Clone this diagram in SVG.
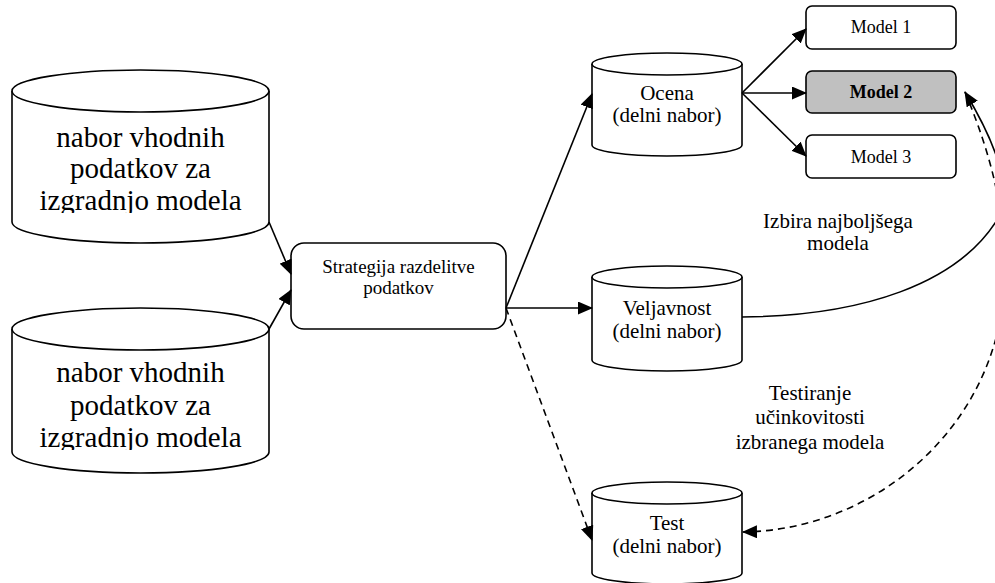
<svg xmlns="http://www.w3.org/2000/svg" width="995" height="583" viewBox="0 0 995 583">
<defs>
<marker id="ah" markerWidth="15" markerHeight="13" refX="14" refY="6.5" orient="auto" markerUnits="userSpaceOnUse">
<path d="M0,0 L15,6.5 L0,13 Z" fill="#000"/>
</marker>
<clipPath id="c1"><rect x="0" y="0" width="300" height="213"/></clipPath>
<clipPath id="c2"><rect x="0" y="300" width="300" height="150"/></clipPath>
</defs>
<rect width="995" height="583" fill="#fff"/>

<g fill="#fff" stroke="#000" stroke-width="1.6">
<g id="dataset1">
<path d="M12,91 L12,222 A128.5,21 0 0 0 269,222 L269,91"/>
<ellipse cx="140.5" cy="91" rx="128.5" ry="21"/>
</g>
<g id="dataset2">
<path d="M12,329 L12,452 A128.5,21 0 0 0 269,452 L269,329"/>
<ellipse cx="140.5" cy="329" rx="128.5" ry="21"/>
</g>
<g id="strategy">
<rect x="291" y="243" width="215" height="86" rx="13"/>
</g>
<g id="ocena">
<path d="M592,64 L592,145 A75,11 0 0 0 742,145 L742,64"/>
<ellipse cx="667" cy="64" rx="75" ry="11"/>
</g>
<g id="veljavnost">
<path d="M592,277 L592,360 A75,11 0 0 0 742,360 L742,277"/>
<ellipse cx="667" cy="277" rx="75" ry="11"/>
</g>
<g id="test">
<path d="M592,493 L592,573 A75,11 0 0 0 742,573 L742,493"/>
<ellipse cx="667" cy="493" rx="75" ry="11"/>
</g>
<g id="model1"><rect x="806" y="6" width="150" height="43" rx="6"/></g>
<g id="model2"><rect x="806" y="71" width="150" height="42" rx="6" fill="#c0c0c0"/></g>
<g id="model3"><rect x="806" y="135" width="150" height="43" rx="6"/></g>
</g>

<g font-family="Liberation Serif" fill="#000" text-anchor="middle">
<g clip-path="url(#c1)" font-size="29">
<text x="140.5" y="147">nabor vhodnih</text>
<text x="140.5" y="178">podatkov za</text>
<text x="140.5" y="210">izgradnjo modela</text>
</g>
<g clip-path="url(#c2)" font-size="29">
<text x="140.5" y="382">nabor vhodnih</text>
<text x="140.5" y="415">podatkov za</text>
<text x="140.5" y="447">izgradnjo modela</text>
</g>
<g font-size="19">
<text x="398.5" y="273">Strategija razdelitve</text>
<text x="398.5" y="294">podatkov</text>
</g>
<g font-size="21">
<text x="667" y="100">Ocena</text>
<text x="667" y="122">(delni nabor)</text>
<text x="667" y="315">Veljavnost</text>
<text x="667" y="338">(delni nabor)</text>
<text x="667" y="530">Test</text>
<text x="667" y="553">(delni nabor)</text>
</g>
<g font-size="18">
<text x="881" y="33">Model 1</text>
<text x="881" y="98" font-weight="bold">Model 2</text>
<text x="881" y="163">Model 3</text>
</g>
<g id="labels" font-size="21">
<text x="838" y="228">Izbira najbolj&#353;ega</text>
<text x="838" y="250">modela</text>
<text x="810" y="400">Testiranje</text>
<text x="810" y="424">u&#269;inkovitosti</text>
<text x="810" y="449">izbranega modela</text>
</g>
</g>

<g id="connectors" fill="none" stroke="#000" stroke-width="1.6">
<line x1="269" y1="222" x2="291" y2="274" marker-end="url(#ah)"/>
<line x1="269" y1="329" x2="291" y2="290" marker-end="url(#ah)"/>
<line x1="506" y1="308" x2="592" y2="94" marker-end="url(#ah)"/>
<line x1="506" y1="308" x2="592" y2="308" marker-end="url(#ah)"/>
<line x1="506" y1="308" x2="592" y2="540" stroke-dasharray="7,5" marker-end="url(#ah)"/>
<line x1="742" y1="93" x2="806" y2="29" marker-end="url(#ah)"/>
<line x1="742" y1="93" x2="806" y2="93" marker-end="url(#ah)"/>
<line x1="742" y1="93" x2="806" y2="156" marker-end="url(#ah)"/>
<path d="M742,317 C860,316 960,285 1000,215 C1010,190 1000,150 965,92" marker-end="url(#ah)"/>
<path d="M965,92 C985,140 1005,200 1005,270 C1005,420 880,530 743,532" stroke-dasharray="7,5" marker-end="url(#ah)"/>
</g>
</svg>
